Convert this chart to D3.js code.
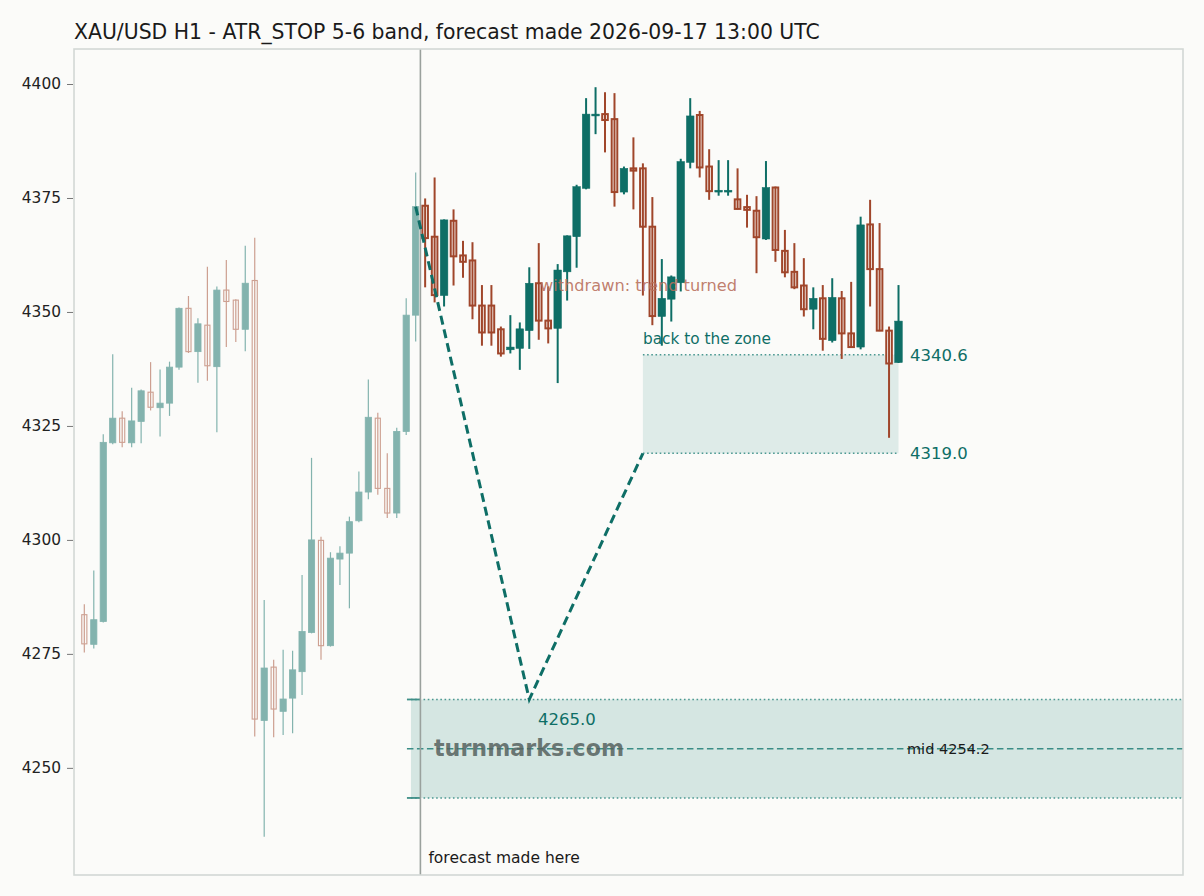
<!DOCTYPE html>
<html>
<head>
<meta charset="utf-8">
<script src="https://cdn.jsdelivr.net/npm/d3@7/dist/d3.min.js"></script>
<style>
  html, body { margin: 0; padding: 0; background: #fbfbf9; }
  svg { display: block; font-family: "DejaVu Sans", sans-serif; }
</style>
</head>
<body>
<svg id="chart" width="1204" height="896"></svg>
<script>
// ---------- data ----------
const titleText = "XAU/USD H1 - ATR_STOP 5-6 band, forecast made 2026-09-17 13:00 UTC";

// candles before the forecast (index 0..35)
const histOpen  = [4283.6,4277.1,4282.1,4321.3,4326.7,4321.3,4326.0,4332.4,4329.0,4330.0,4337.9,4350.8,4341.3,4347.1,4338.0,4354.8,4352.6,4346.2,4356.9,4260.4,4272.1,4262.4,4265.3,4271.1,4279.7,4299.9,4276.8,4295.8,4297.1,4304.2,4310.5,4326.7,4311.3,4305.9,4323.8,4349.3];
const histHigh  = [4285.9,4293.3,4323.2,4340.7,4328.2,4333.4,4333.0,4339.0,4337.4,4339.1,4351.0,4353.5,4348.6,4359.9,4355.6,4361.4,4352.8,4364.5,4366.3,4286.8,4273.7,4275.9,4275.7,4292.3,4318.0,4300.7,4297.3,4298.6,4305.1,4315.0,4335.2,4327.9,4319.0,4324.6,4353.0,4380.6];
const histLow   = [4275.3,4276.2,4281.9,4321.0,4320.3,4320.3,4321.2,4328.4,4322.7,4327.2,4337.3,4341.0,4334.5,4334.9,4323.6,4342.3,4343.4,4341.4,4256.9,4234.9,4256.7,4257.2,4257.6,4266.0,4279.5,4273.7,4276.6,4290.1,4285.0,4303.9,4308.9,4309.9,4304.8,4304.8,4323.0,4343.5];
const histClose = [4277.2,4282.5,4321.4,4326.7,4321.4,4326.1,4332.7,4329.1,4330.0,4337.9,4350.8,4341.3,4347.4,4338.2,4354.8,4352.3,4346.2,4356.3,4260.7,4271.9,4262.9,4265.1,4271.5,4279.9,4300.0,4276.8,4296.0,4297.1,4304.0,4310.5,4326.9,4311.3,4305.9,4323.8,4349.3,4373.1];

// candles after the forecast (index 36..86)
const postOpen  = [4373.3,4366.5,4353.6,4370.0,4362.4,4361.3,4351.4,4351.4,4346.2,4341.7,4342.0,4345.9,4356.3,4348.1,4346.4,4358.8,4366.5,4377.1,4393.0,4393.4,4392.3,4376.3,4381.5,4381.5,4368.7,4349.0,4352.8,4356.4,4382.8,4393.2,4381.9,4376.3,4376.3,4374.7,4373.0,4372.2,4366.0,4377.3,4363.4,4358.8,4355.8,4350.6,4353.0,4343.7,4353.0,4345.3,4342.3,4369.2,4359.4,4345.9,4338.9];
const postHigh  = [4374.9,4379.5,4370.3,4372.5,4365.6,4365.3,4355.9,4355.9,4346.8,4349.3,4347.7,4359.8,4365.1,4355.6,4360.5,4366.8,4377.9,4396.9,4399.3,4398.2,4398.0,4381.9,4388.3,4382.6,4375.2,4361.6,4358.0,4383.6,4396.9,4394.1,4385.7,4383.3,4383.3,4381.5,4375.7,4375.4,4383.1,4377.5,4368.0,4365.1,4361.8,4355.4,4355.9,4357.4,4354.6,4356.6,4370.9,4374.6,4369.5,4346.8,4355.9];
const postLow   = [4355.4,4352.1,4351.2,4355.8,4357.5,4348.4,4342.6,4342.6,4340.2,4340.9,4337.3,4341.9,4343.9,4343.1,4334.4,4352.5,4359.7,4376.9,4389.0,4385.0,4373.1,4375.8,4372.5,4353.6,4347.1,4342.6,4347.9,4354.5,4381.5,4379.5,4374.6,4375.5,4375.5,4372.5,4368.5,4358.5,4365.8,4361.0,4357.6,4355.0,4349.0,4346.2,4341.5,4343.3,4339.7,4342.2,4341.8,4351.2,4345.8,4322.4,4338.8];
const postClose = [4366.2,4353.7,4370.2,4362.2,4361.0,4351.4,4345.5,4345.5,4340.9,4342.3,4346.3,4356.3,4348.1,4346.4,4359.2,4366.7,4377.5,4393.4,4393.4,4392.1,4376.3,4381.5,4381.0,4368.7,4349.1,4353.0,4357.7,4383.0,4393.0,4381.7,4376.5,4376.7,4376.7,4372.6,4372.4,4366.4,4377.3,4363.6,4358.7,4355.4,4350.6,4353.0,4344.1,4353.2,4345.3,4342.3,4369.1,4359.4,4345.9,4338.7,4348.0];

const yTicks = [4250, 4275, 4300, 4325, 4350, 4375, 4400];

// forecast path (bar index, price)
const pathIdx   = [35, 47, 59];
const pathPrice = [4373.1, 4265.0, 4319.0];

// band / zone levels
const bandTop = 4265.0, bandMid = 4254.2, bandBottom = 4243.4;
const bandStartIdx = 34.5;
const forecastIdx = 35.5;
const zoneTop = 4340.6, zoneBottom = 4319.0;
const zoneStartIdx = 59, zoneEndIdx = 86;

// ---------- layout ----------
const L = 74, R = 1183, T = 49, B = 875;
const teal = "#0e6e66", red = "#a0462b";

const svg = d3.select("#chart");
svg.append("rect").attr("width", 1204).attr("height", 896).attr("fill", "#fbfbf9");

const x = d3.scaleLinear().domain([-1.09, 116.05]).range([L, R]);
const y = d3.scaleLinear().domain([4226.5, 4407.68]).range([B, T]);

// title
svg.append("text").attr("x", L).attr("y", 39)
  .attr("font-size", 20.4).attr("fill", "#1a1a1a").text(titleText);

// y axis
const yAxis = d3.axisLeft(y).tickValues(yTicks).tickSize(6).tickPadding(6).tickFormat(d3.format("d"));
const ga = svg.append("g").attr("transform", `translate(${L - 1},0)`).call(yAxis);
ga.select(".domain").remove();
ga.selectAll(".tick line").attr("stroke", "#777").attr("stroke-width", 1);
ga.selectAll(".tick text").attr("font-size", 15.4).attr("fill", "#222")
  .attr("font-family", "DejaVu Sans, sans-serif");

// lower band
svg.append("rect")
  .attr("x", x(bandStartIdx)).attr("y", y(bandTop))
  .attr("width", R - x(bandStartIdx)).attr("height", y(bandBottom) - y(bandTop))
  .attr("fill", "#d5e6e2");
[bandTop, bandBottom].forEach(v => {
  svg.append("line").attr("x1", x(bandStartIdx)).attr("x2", R).attr("y1", y(v)).attr("y2", y(v))
    .attr("stroke", "#4b9891").attr("stroke-width", 1.6).attr("stroke-dasharray", "1.6,2.6");
  svg.append("line").attr("x1", x(bandStartIdx) - 4).attr("x2", x(forecastIdx)).attr("y1", y(v)).attr("y2", y(v))
    .attr("stroke", "#3f8f88").attr("stroke-width", 1.8);
});
svg.append("line").attr("x1", x(bandStartIdx) - 4).attr("x2", R).attr("y1", y(bandMid)).attr("y2", y(bandMid))
  .attr("stroke", "#3a8d86").attr("stroke-width", 1.6).attr("stroke-dasharray", "6.5,3.5");

// watermark
svg.append("text").attr("x", 434).attr("y", y(bandMid) + 7.5)
  .attr("font-size", 22.2).attr("font-weight", "bold").attr("fill", "#56625f").attr("fill-opacity", 0.85)
  .text("turnmarks.com");

svg.append("text").attr("x", 907).attr("y", y(bandMid) + 5)
  .attr("font-size", 14.5).attr("fill", "#1a1a1a").text("mid " + bandMid.toFixed(1));

// target zone
svg.append("rect")
  .attr("x", x(zoneStartIdx)).attr("y", y(zoneTop))
  .attr("width", x(zoneEndIdx) - x(zoneStartIdx)).attr("height", y(zoneBottom) - y(zoneTop))
  .attr("fill", "#deebe8");
[zoneTop, zoneBottom].forEach(v => {
  svg.append("line").attr("x1", x(zoneStartIdx)).attr("x2", x(zoneEndIdx)).attr("y1", y(v)).attr("y2", y(v))
    .attr("stroke", "#4b9891").attr("stroke-width", 1.6).attr("stroke-dasharray", "1.6,2.6");
  svg.append("text").attr("x", 910).attr("y", y(v) + 6)
    .attr("font-size", 16.5).attr("fill", teal).text(v.toFixed(1));
});

// candles
function drawCandles(O, H, Lo, C, offset, faded) {
  const g = svg.append("g").attr("opacity", faded ? 0.5 : 1);
  const bw = faded ? 6.2 : 7.6;
  const sw = faded ? 1.1 : 2;
  O.forEach((o, k) => {
    const i = k + offset, c = C[k], up = c >= o;
    const col = up ? teal : red;
    const cx = x(i);
    g.append("line").attr("x1", cx).attr("x2", cx).attr("y1", y(H[k])).attr("y2", y(Lo[k]))
      .attr("stroke", col).attr("stroke-width", faded ? 1.2 : 2);
    const top = y(Math.max(o, c)), bot = y(Math.min(o, c));
    if (up) {
      g.append("rect").attr("x", cx - bw / 2).attr("y", top)
        .attr("width", bw).attr("height", Math.max(bot - top, 1.6))
        .attr("fill", col).attr("stroke", col).attr("stroke-width", faded ? 0.8 : 0.5);
    } else {
      g.append("rect").attr("x", cx - bw / 2 + sw / 2).attr("y", top)
        .attr("width", bw - sw).attr("height", Math.max(bot - top, 1.6))
        .attr("fill", "#fbfbf9").attr("stroke", col).attr("stroke-width", sw);
      g.append("line").attr("x1", cx).attr("x2", cx).attr("y1", top).attr("y2", bot)
        .attr("stroke", col).attr("stroke-width", faded ? 1.2 : 2);
    }
  });
}
drawCandles(histOpen, histHigh, histLow, histClose, 0, true);
drawCandles(postOpen, postHigh, postLow, postClose, histOpen.length, false);

// forecast marker line
svg.append("line").attr("x1", x(forecastIdx)).attr("x2", x(forecastIdx)).attr("y1", T).attr("y2", B)
  .attr("stroke", "#9aa19d").attr("stroke-width", 1.6);
svg.append("text").attr("x", x(forecastIdx) + 8).attr("y", 863)
  .attr("font-size", 15.5).attr("fill", "#1a1a1a").text("forecast made here");

// forecast path
const line = d3.line().x(d => x(d[0])).y(d => y(d[1]));
svg.append("path").datum(pathIdx.map((d, k) => [d, pathPrice[k]]))
  .attr("d", line).attr("fill", "none").attr("stroke", teal)
  .attr("stroke-width", 3).attr("stroke-dasharray", "9,5");

svg.append("text").attr("x", 538).attr("y", y(pathPrice[1]) + 26)
  .attr("font-size", 16.5).attr("fill", teal).text(pathPrice[1].toFixed(1));

// annotations
svg.append("text").attr("x", 540).attr("y", 291)
  .attr("font-size", 16.2).attr("fill", "#b9705c").attr("fill-opacity", 0.9).text("withdrawn: trend turned");
svg.append("text").attr("x", 643).attr("y", 344)
  .attr("font-size", 15.3).attr("fill", teal).text("back to the zone");

// frame
svg.append("rect").attr("x", L).attr("y", T).attr("width", R - L).attr("height", B - T)
  .attr("fill", "none").attr("stroke", "#d3d8d5").attr("stroke-width", 1.6);
</script>
</body>
</html>
